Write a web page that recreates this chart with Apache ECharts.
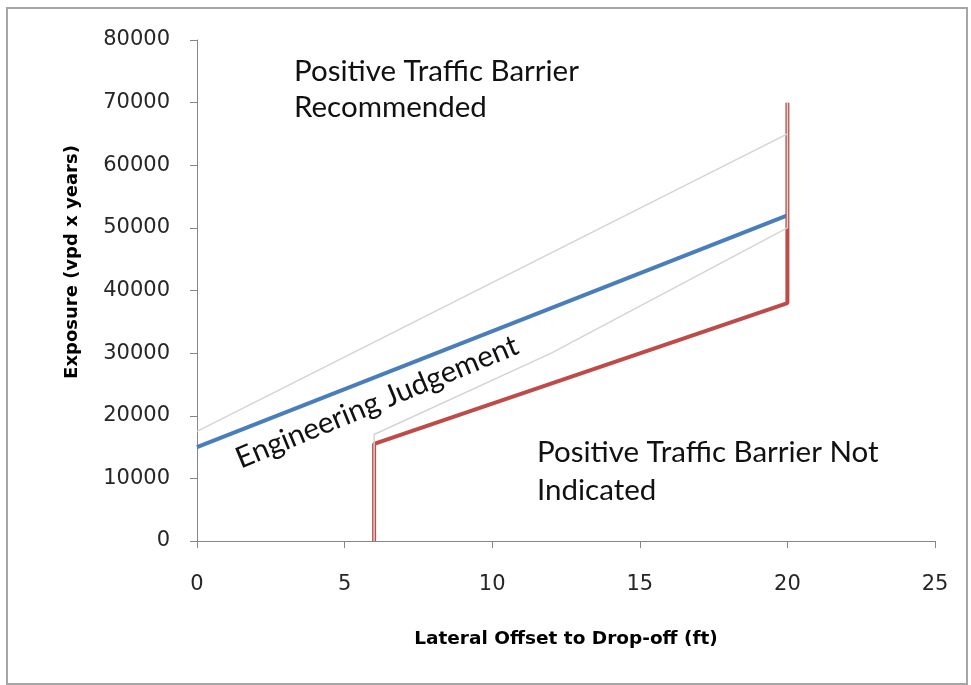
<!DOCTYPE html>
<html>
<head>
<meta charset="utf-8">
<script src="https://cdn.jsdelivr.net/npm/echarts@6/dist/echarts.min.js"></script>
<style>
  html, body { margin: 0; padding: 0; background: #fff; }
  #main { width: 971px; height: 685px; }
</style>
</head>
<body>
<div id="main"></div>
<script>
var xTicks = [0, 5, 10, 15, 20, 25];
var yTicks = [0, 10000, 20000, 30000, 40000, 50000, 60000, 70000, 80000];

// [offset ft, exposure]
var engLine = [[0, 15000], [20, 52000]];
var barrierLine = [[6, 0], [6, 15500], [20, 38000], [20, 70000]];
var upperBand = [[0, 17500], [20, 65000]];
var lowerBand = [[6, 0], [6, 17000], [12, 30000], [20, 50000], [20, 70000]];

var font = 'Lato';
var numFont = 'DejaVu Sans';
var myChart = echarts.init(document.getElementById('main'));

var option = {
    animation: false,
    grid: { left: 197, right: 36, top: 40, bottom: 144 },
    xAxis: {
        type: 'value',
        min: xTicks[0],
        max: xTicks[xTicks.length - 1],
        interval: 5,
        name: 'Lateral Offset to Drop-off (ft)',
        nameLocation: 'middle',
        nameGap: 89,
        nameTextStyle: { fontFamily: numFont, fontWeight: 'bold', fontSize: 18.5, color: '#000' },
        axisLine: { lineStyle: { color: '#868686' } },
        axisTick: { length: 7, lineStyle: { color: '#868686' } },
        axisLabel: { fontFamily: numFont, fontSize: 21, color: '#262626', margin: 33 },
        splitLine: { show: false }
    },
    yAxis: {
        type: 'value',
        min: yTicks[0],
        max: yTicks[yTicks.length - 1],
        interval: 10000,
        axisLine: { show: true, lineStyle: { color: '#868686' } },
        axisTick: { show: true, length: 7, lineStyle: { color: '#868686' } },
        axisLabel: { fontFamily: numFont, fontSize: 21, color: '#262626', margin: 27,
                     formatter: function (v) { return String(v); } },
        splitLine: { show: false }
    },
    graphic: [
        { type: 'rect', shape: { x: 7, y: 8, width: 960, height: 676 },
          style: { fill: 'none', stroke: '#a6a6a6', lineWidth: 2 }, silent: true },
        { type: 'text', x: 72, y: 262, rotation: Math.PI / 2,
          style: { text: 'Exposure (vpd x years)', fontFamily: numFont, fontWeight: 'bold', fontSize: 18,
                   fill: '#000', align: 'center', verticalAlign: 'middle' } },
        { type: 'text', x: 294, y: 89,
          style: { text: 'Positive Traffic Barrier\nRecommended', fontFamily: font, fontSize: 29.5,
                   lineHeight: 36, fill: '#111', align: 'left', verticalAlign: 'middle' } },
        { type: 'text', x: 537, y: 471,
          style: { text: 'Positive Traffic Barrier Not\nIndicated', fontFamily: font, fontSize: 29.5,
                   lineHeight: 38, fill: '#111', align: 'left', verticalAlign: 'middle' } },
        { type: 'text', x: 377, y: 402, rotation: 22.5 * Math.PI / 180,
          style: { text: 'Engineering Judgement', fontFamily: font, fontSize: 29.5,
                   fill: '#111', align: 'center', verticalAlign: 'middle' } }
    ],
    series: [
        { type: 'line', data: engLine, symbol: 'none', z: 2,
          lineStyle: { color: '#4a7ebb', width: 4 } },
        { type: 'line', data: barrierLine, symbol: 'none', z: 3,
          lineStyle: { color: '#be4b48', width: 4 } },
        { type: 'line', data: upperBand, symbol: 'none', z: 4,
          lineStyle: { color: '#d4d4d4', width: 1.5 } },
        { type: 'line', data: lowerBand, symbol: 'none', z: 4,
          lineStyle: { color: '#d4d4d4', width: 1.5 } }
    ]
};

myChart.setOption(option);
</script>
</body>
</html>
